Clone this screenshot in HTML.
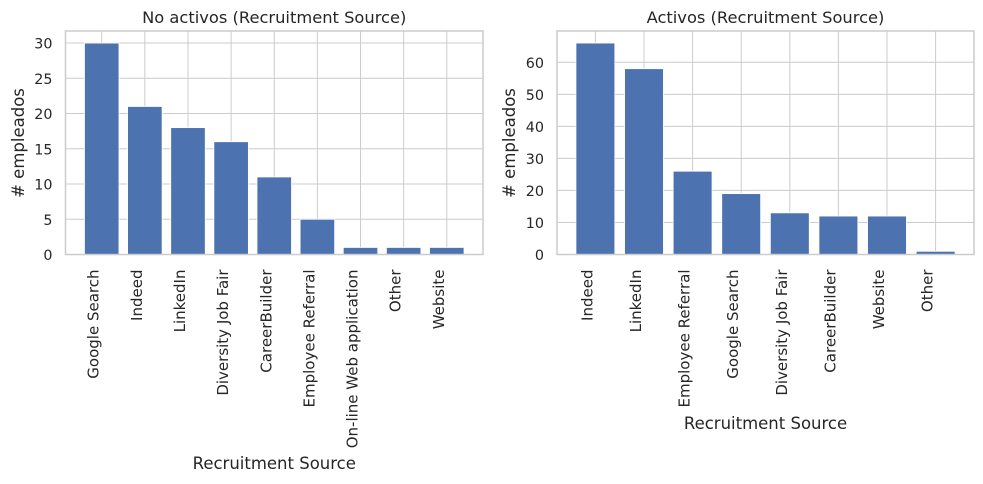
<!DOCTYPE html>
<html><head><meta charset="utf-8"><style>
body{margin:0;background:#fff;}
svg{display:block;font-family:"DejaVu Sans","Liberation Sans",sans-serif;}
</style></head><body>
<svg id="chart" width="983" height="484"></svg>
<script>
const leftCats=["Google Search","Indeed","LinkedIn","Diversity Job Fair","CareerBuilder","Employee Referral","On-line Web application","Other","Website"];
const leftVals=[30,21,18,16,11,5,1,1,1];
const leftTicks=[0,5,10,15,20,25,30];
const rightCats=["Indeed","LinkedIn","Employee Referral","Google Search","Diversity Job Fair","CareerBuilder","Website","Other"];
const rightVals=[66,58,26,19,13,12,12,1];
const rightTicks=[0,10,20,30,40,50,60];

const NS="http://www.w3.org/2000/svg";
const svg=document.getElementById('chart');
function mk(tag,attrs,parent,text){const e=document.createElementNS(NS,tag);for(const k in attrs)e.setAttribute(k,attrs[k]);if(text!==undefined)e.textContent=text;(parent||svg).appendChild(e);return e;}

function panel(p){
  const g=mk('g',{});
  
  
  const top=31,bot=254.5;
  const ymax=Math.max(...p.vals)*1.057;
  const y=v=>bot-(v/ymax)*(bot-top);
  const n=p.cats.length,span=n-1+0.8,m=0.05*span;
  const lo=-0.4-m,hi=n-1+0.4+m;
  const x=v=>p.x0+(v-lo)/(hi-lo)*(p.x1-p.x0);
  mk('rect',{x:p.x0,y:top,width:p.x1-p.x0,height:bot-top,fill:'#fff'},g);
  p.ticks.forEach(t=>{
    const gl=mk('line',{x1:p.x0,x2:p.x1,y1:y(t),y2:y(t),stroke:'#cccccc','stroke-width':1},g);
    
    
    const tl=mk('text',{x:p.x0-13,y:y(t)+5.5,'text-anchor':'end','font-size':14.3,fill:'#262626'},g,String(t));
    
    
  });
  p.cats.forEach((c,i)=>{
    const gl=mk('line',{x1:x(i),x2:x(i),y1:top,y2:bot,stroke:'#cccccc','stroke-width':1},g);
    
    
  });
  p.cats.forEach((c,i)=>{
    const b=mk('rect',{x:x(i-0.4),y:y(p.vals[i]),width:x(i+0.4)-x(i-0.4),height:bot-y(p.vals[i]),fill:'#4c72b0',stroke:'#ffffff','stroke-width':0.8},g);
    
    
    const tl=mk('text',{transform:`translate(${x(i)-3},${bot+15}) rotate(-90)`,'text-anchor':'end','font-size':15,fill:'#262626'},g,c);
    
    
  });
  const fr=mk('rect',{x:p.x0,y:top,width:p.x1-p.x0,height:bot-top,fill:'none',stroke:'#cccccc','stroke-width':1.5},g);
  
  
  const t=mk('text',{x:(p.x0+p.x1)/2,y:23,'text-anchor':'middle','font-size':16.3,fill:'#262626'},g,p.title);
  
  
  const yl=mk('text',{transform:`translate(${p.ylx},143) rotate(-90)`,'text-anchor':'middle','font-size':16.5,fill:'#262626'},g,'# empleados');
  
  
  const xl=mk('text',{x:(p.x0+p.x1)/2,y:p.xly,'text-anchor':'middle','font-size':16.5,fill:'#262626'},g,'Recruitment Source');
  
  
}
panel({name:'left-panel',title:'No activos (Recruitment Source)',cats:leftCats,vals:leftVals,ticks:leftTicks,x0:65.5,x1:483,ylx:24,xly:469});
panel({name:'right-panel',title:'Activos (Recruitment Source)',cats:rightCats,vals:rightVals,ticks:rightTicks,x0:557,x1:974,ylx:515,xly:429});
</script>
</body></html>
